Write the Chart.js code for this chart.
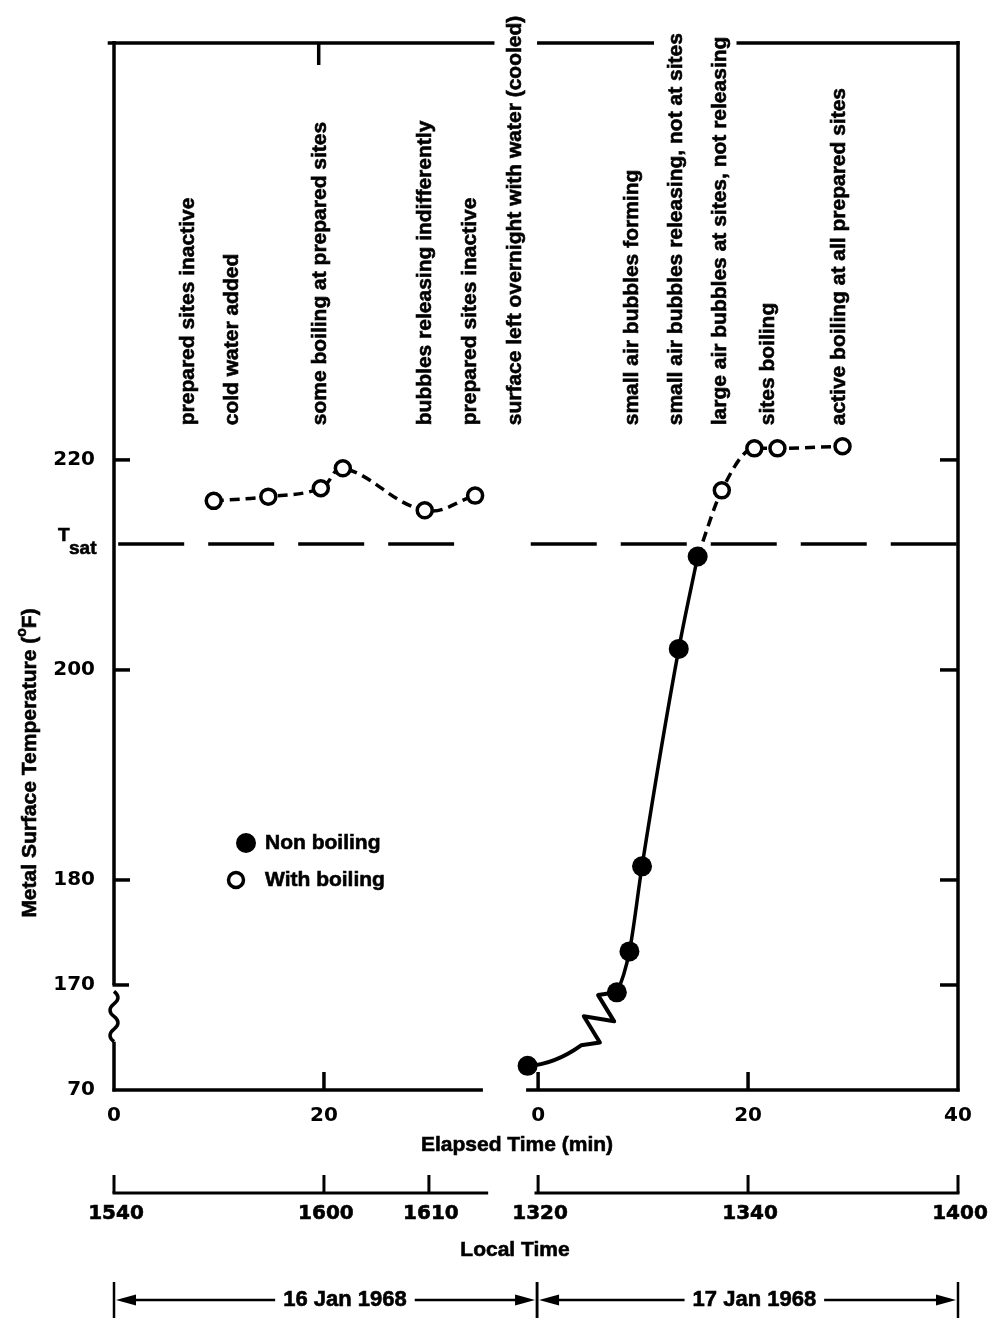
<!DOCTYPE html>
<html>
<head>
<meta charset="utf-8">
<script src="https://cdn.jsdelivr.net/npm/chart.js@4.4.1/dist/chart.umd.min.js"></script>
<style>
  body { margin: 0; background: #fff; }
  canvas { display: block; }
</style>
</head>
<body>
<canvas id="boilingChart" width="988" height="1319"></canvas>
<script>
// Metal surface temperature during the two boiling runs (16 and 17 Jan 1968)

// the second day is plotted after a break in the time axis
var DAY2 = 40.4;

var boil1Time = [9.5, 14.7, 19.7, 21.8, 29.6, 34.4];
var boil1Temp = [216.1, 216.5, 217.3, 219.2, 215.2, 216.6];

var nonBoilTime = [-1.0, 7.5, 8.7, 9.9, 13.4, 15.2];
var nonBoilTemp = [162.3, 169.3, 173.2, 181.3, 202.0, 210.8];

var boil2Time = [17.5, 20.6, 22.8, 29.0];
var boil2Temp = [217.1, 221.1, 221.1, 221.3];

var tSat = 212;
var tSatSpans = [[0.4, 32.4], [39.7, 80.4]];

// y axis is broken below 170, the bottom tick stands for 70
var yTicks = [160, 170, 180, 200, 220];
var yTickLabels = ['70', '170', '180', '200', '220'];

var xTicks = [0, 20, DAY2, DAY2 + 20, DAY2 + 40];
var xTickLabels = ['0', '20', '0', '20', '40'];

var localTimePos = [0, 20, 30, DAY2, DAY2 + 20, DAY2 + 40];
var localTimeLabels = ['1540', '1600', '1610', '1320', '1340', '1400'];

var notes = ['prepared sites inactive', 'cold water added', 'some boiling at prepared sites',
  'bubbles releasing indifferently', 'prepared sites inactive', 'surface left overnight with water (cooled)',
  'small air bubbles forming', 'small air bubbles releasing, not at sites',
  'large air bubbles at sites, not releasing', 'sites boiling', 'active boiling at all prepared sites'];
var notesPos = [7.1, 11.3, 19.6, 29.6, 33.9, 38.2, DAY2 + 9.0, DAY2 + 13.2, DAY2 + 17.3, DAY2 + 21.9, DAY2 + 28.7];

var dateLabels = ['16 Jan 1968', '17 Jan 1968'];
var dateSpans = [[0, DAY2 - 0.1], [DAY2 - 0.1, DAY2 + 40]];
var dateCenters = [22.0, DAY2 + 20.6];

var TXT = '"Liberation Sans", Arial, sans-serif';
var NUM = '"DejaVu Sans", sans-serif';

function pts(xs, ys, off) {
  return xs.map(function (x, i) { return { x: x + off, y: ys[i] }; });
}

var tSatData = [];
tSatSpans.forEach(function (s, i) {
  if (i > 0) tSatData.push({ x: (tSatSpans[i - 1][1] + s[0]) / 2, y: null });
  tSatData.push({ x: s[0], y: tSat }, { x: s[1], y: tSat });
});

var nonBoilData = pts(nonBoilTime, nonBoilTemp, DAY2);
var boil2Data = [nonBoilData[nonBoilData.length - 1]].concat(pts(boil2Time, boil2Temp, DAY2));

function line(ctx, x1, y1, x2, y2) {
  ctx.beginPath(); ctx.moveTo(x1, y1); ctx.lineTo(x2, y2); ctx.stroke();
}

function arrowHead(ctx, x, y, dir) {
  ctx.beginPath();
  ctx.moveTo(x, y);
  ctx.lineTo(x - dir * 20, y - 5.5);
  ctx.lineTo(x - dir * 20, y + 5.5);
  ctx.closePath();
  ctx.fill();
}

// heavier text, closer to the printed lettering
function boldText(ctx, t, x, y) {
  ctx.fillText(t, x, y);
  ctx.strokeText(t, x, y);
}

var extras = {
  id: 'extras',
  beforeDatasetsDraw: function (chart) {
    // curve from the first cold point, broken by a zigzag
    var ctx = chart.ctx;
    var m = chart.getDatasetMeta(2);
    var p0 = m.data[0], p1 = m.data[1];
    var dx = p1.x - p0.x, dy = p1.y - p0.y;
    var ax = p0.x + 0.6 * dx, ay = p0.y + 0.28 * dy;
    ctx.save();
    ctx.strokeStyle = '#000';
    ctx.lineWidth = 4;
    ctx.lineJoin = 'round';
    ctx.lineCap = 'round';
    ctx.beginPath();
    ctx.moveTo(p0.x, p0.y);
    ctx.quadraticCurveTo(p0.x + 0.3 * dx, p0.y + 0.02 * dy, ax, ay);
    var zx = p1.x - ax, zy = p1.y - ay, len = Math.hypot(zx, zy);
    var nx = -zy / len, ny = zx / len;
    for (var k = 1; k < 5; k++) {
      var s = (k % 2 ? 1 : -1) * 14;
      ctx.lineTo(ax + zx * k / 5 + nx * s, ay + zy * k / 5 + ny * s);
    }
    ctx.lineTo(p1.x, p1.y);
    ctx.stroke();
    ctx.restore();
  },
  afterDraw: function (chart) {
    var ctx = chart.ctx, a = chart.chartArea;
    var xs = chart.scales.x, ys = chart.scales.y;
    var X = function (v) { return xs.getPixelForValue(v); };
    var Y = function (v) { return ys.getPixelForValue(v); };
    var L = a.left, R = a.right, T = a.top, B = a.bottom;
    ctx.save();
    ctx.strokeStyle = '#000';
    ctx.fillStyle = '#000';
    ctx.lineWidth = 3.5;

    // left axis with break
    line(ctx, L, T - 2, L, Y(170));
    line(ctx, L - 1.5, Y(170), L + 15, Y(170));
    var s0 = Y(169.4), s1 = Y(164.6), waves = 4, h = (s1 - s0) / waves;
    ctx.beginPath();
    ctx.moveTo(L, s0);
    for (var k = 0; k < waves; k++) {
      ctx.quadraticCurveTo(L + (k % 2 ? -8 : 8), s0 + h * (k + 0.5), L, s0 + h * (k + 1));
    }
    ctx.stroke();
    line(ctx, L, s1, L, B + 1.5);

    // right axis
    line(ctx, R, T - 2, R, B + 1.5);

    // top border, open where the notes cross it
    [[-0.6, 36.1], [DAY2 - 0.1, 51.3], [59.3, DAY2 + 40]].forEach(function (s) {
      line(ctx, X(s[0]), T, X(s[1]) + 1.5, T);
    });
    // bottom axis in two parts
    [[0, 35.0], [DAY2 - 1.0, DAY2 + 40]].forEach(function (s) {
      line(ctx, X(s[0]) - 1.5, B, X(s[1]) + 1.5, B);
    });

    // inward ticks
    [180, 200, 220].forEach(function (v) { line(ctx, L, Y(v), L + 16, Y(v)); });
    [170, 180, 200, 220].forEach(function (v) { line(ctx, R, Y(v), R - 18, Y(v)); });
    line(ctx, X(19.5), T, X(19.5), T + 22);
    [20, DAY2, DAY2 + 20].forEach(function (v) { line(ctx, X(v), B, X(v), B - 18); });

    ctx.lineWidth = 0.6;

    // T_sat label
    ctx.textBaseline = 'middle';
    ctx.textAlign = 'left';
    ctx.font = 'bold 19px ' + TXT;
    boldText(ctx, 'T', L - 56, Y(tSat) - 8);
    boldText(ctx, 'sat', L - 45, Y(tSat) + 5);

    // rotated notes
    ctx.font = 'bold 21px ' + TXT;
    notes.forEach(function (t, i) {
      ctx.save();
      ctx.translate(X(notesPos[i]), Y(223.3));
      ctx.rotate(-Math.PI / 2);
      ctx.textAlign = 'left';
      ctx.textBaseline = 'middle';
      boldText(ctx, t, 0, 0);
      ctx.restore();
    });

    // legend
    ctx.lineWidth = 3.5;
    ctx.beginPath();
    ctx.arc(L + 132, 843, 10, 0, Math.PI * 2);
    ctx.fill();
    ctx.beginPath();
    ctx.arc(L + 122, 880, 7.5, 0, Math.PI * 2);
    ctx.stroke();
    ctx.lineWidth = 0.6;
    ctx.font = 'bold 21px ' + TXT;
    ctx.textAlign = 'left';
    boldText(ctx, 'Non boiling', L + 151, 843);
    boldText(ctx, 'With boiling', L + 151, 880);

    // y axis title
    ctx.save();
    ctx.translate(30, 763);
    ctx.rotate(-Math.PI / 2);
    ctx.font = 'bold 21px ' + TXT;
    var t1 = 'Metal Surface Temperature (', t2 = 'F)';
    var w1 = ctx.measureText(t1).width, w2 = ctx.measureText(t2).width;
    ctx.font = 'bold 14px ' + TXT;
    var wo = ctx.measureText('o').width;
    var x0 = -(w1 + wo + w2) / 2;
    ctx.textAlign = 'left';
    ctx.font = 'bold 21px ' + TXT;
    boldText(ctx, t1, x0, 0);
    boldText(ctx, t2, x0 + w1 + wo, 0);
    ctx.font = 'bold 14px ' + TXT;
    boldText(ctx, 'o', x0 + w1, -8);
    ctx.restore();

    // x axis title
    ctx.textAlign = 'center';
    ctx.font = 'bold 21px ' + TXT;
    boldText(ctx, 'Elapsed Time (min)', 517, B + 55);

    // local time axis
    var ly = B + 103;
    ctx.lineWidth = 3;
    [[0, 35.5], [DAY2 - 0.2, DAY2 + 40]].forEach(function (s) {
      line(ctx, X(s[0]) - 1.5, ly, X(s[1]) + 1.5, ly);
    });
    localTimePos.forEach(function (v) { line(ctx, X(v), ly, X(v), ly - 18); });
    ctx.lineWidth = 0.6;
    ctx.font = 'bold 20px ' + NUM;
    localTimePos.forEach(function (v, i) {
      boldText(ctx, localTimeLabels[i], X(v) + 2, ly + 21);
    });
    ctx.font = 'bold 21px ' + TXT;
    boldText(ctx, 'Local Time', 515, B + 160);

    // date spans
    var dy = B + 210;
    ctx.font = 'bold 22px ' + TXT;
    dateSpans.forEach(function (s, i) {
      var xa = X(s[0]), xb = X(s[1]), xc = X(dateCenters[i]);
      var hw = ctx.measureText(dateLabels[i]).width / 2 + 8;
      ctx.lineWidth = 2.5;
      line(ctx, xa, dy - 18, xa, dy + 18);
      line(ctx, xb, dy - 18, xb, dy + 18);
      line(ctx, xa + 10, dy, xc - hw, dy);
      line(ctx, xc + hw, dy, xb - 10, dy);
      arrowHead(ctx, xa + 2, dy, -1);
      arrowHead(ctx, xb - 2, dy, 1);
      ctx.lineWidth = 0.6;
      boldText(ctx, dateLabels[i], xc, dy);
    });
    ctx.restore();
  }
};

var ctx = document.getElementById('boilingChart');

var boilingChart = new Chart(ctx, {
  type: 'scatter',
  data: {
    datasets: [{
      label: 'Tsat',
      data: tSatData,
      showLine: true,
      borderColor: '#000',
      borderWidth: 3.5,
      borderDash: [66, 24],
      pointRadius: 0,
      spanGaps: false,
      order: 5
    }, {
      label: 'With boiling (16 Jan)',
      data: pts(boil1Time, boil1Temp, 0),
      showLine: true,
      tension: 0.4,
      borderColor: '#000',
      borderWidth: 3.5,
      borderDash: [10, 6],
      pointRadius: 7.5,
      pointBorderWidth: 3.5,
      pointBackgroundColor: '#fff',
      pointBorderColor: '#000',
      order: 2
    }, {
      label: 'Non boiling',
      data: nonBoilData,
      showLine: true,
      cubicInterpolationMode: 'monotone',
      borderColor: '#000',
      borderWidth: 3.5,
      segment: {
        borderColor: function (c) { return c.p0DataIndex === 0 ? 'rgba(0,0,0,0)' : '#000'; }
      },
      pointRadius: 10,
      pointBorderWidth: 0,
      pointBackgroundColor: '#000',
      order: 1
    }, {
      label: 'With boiling (17 Jan)',
      data: boil2Data,
      showLine: true,
      cubicInterpolationMode: 'monotone',
      borderColor: '#000',
      borderWidth: 3.5,
      borderDash: [10, 6],
      pointRadius: boil2Data.map(function (p, i) { return i === 0 ? 0 : 7.5; }),
      pointBorderWidth: 3.5,
      pointBackgroundColor: '#fff',
      pointBorderColor: '#000',
      order: 3
    }]
  },
  options: {
    responsive: false,
    animation: false,
    layout: { padding: { left: 0, top: 43, right: 30, bottom: 189 } },
    plugins: {
      legend: { display: false },
      tooltip: { enabled: false }
    },
    scales: {
      x: {
        type: 'linear',
        min: 0,
        max: DAY2 + 40,
        grid: { display: false },
        border: { display: false },
        afterBuildTicks: function (s) { s.ticks = xTicks.map(function (v) { return { value: v }; }); },
        afterFit: function (s) { s.height = 40; },
        ticks: {
          autoSkip: false,
          maxRotation: 0,
          padding: 6,
          color: '#000',
          font: { family: NUM, size: 20, weight: 'bold' },
          callback: function (v, i) { return xTickLabels[i]; }
        }
      },
      y: {
        type: 'linear',
        min: 160,
        max: 259.7,
        grid: { display: false },
        border: { display: false },
        afterBuildTicks: function (s) { s.ticks = yTicks.map(function (v) { return { value: v }; }); },
        afterFit: function (s) { s.width = 114; },
        ticks: {
          padding: 11,
          color: '#000',
          font: { family: NUM, size: 20, weight: 'bold' },
          callback: function (v, i) { return yTickLabels[i]; }
        }
      }
    }
  },
  plugins: [extras]
});
</script>
</body>
</html>
